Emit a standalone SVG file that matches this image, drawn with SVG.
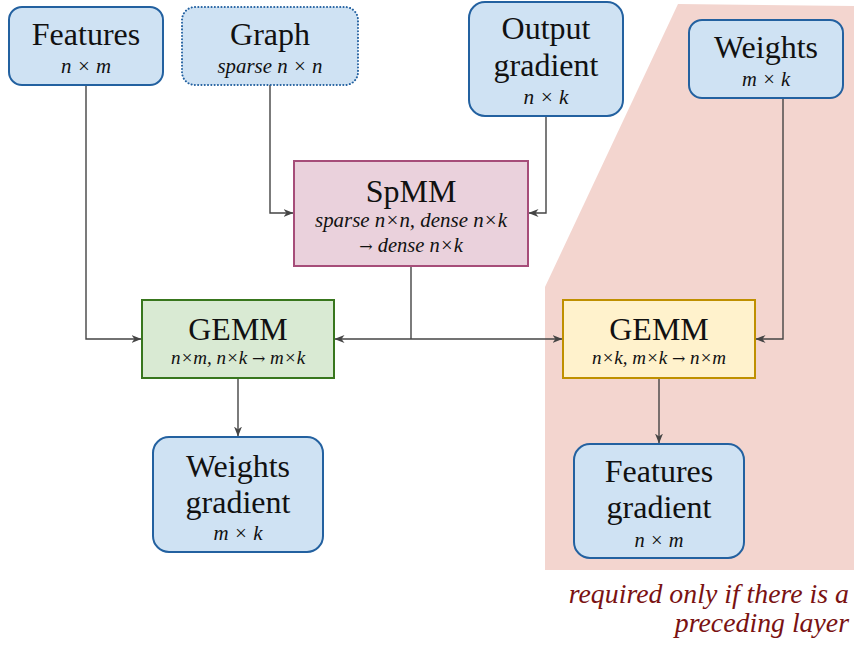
<svg xmlns="http://www.w3.org/2000/svg" width="854" height="649" viewBox="0 0 854 649">
  <defs>
    <marker id="arr" viewBox="0 0 10 8" refX="9.5" refY="4" markerWidth="10" markerHeight="8" markerUnits="userSpaceOnUse" orient="auto">
      <path d="M0,0 L10,4 L0,8 L3,4 Z" fill="#444"/>
    </marker>
    <style>
      text { font-family: "Liberation Serif", "DejaVu Serif", serif; }
      .t { font-size: 32px; fill: #111; text-anchor: middle; }
      .s { font-size: 20.5px; font-style: italic; fill: #111; text-anchor: middle; }
      .sm { font-size: 19px; font-style: italic; fill: #111; text-anchor: middle; }
      .to { font-family: "DejaVu Serif", serif; font-style: normal; font-size: 16px; }
      .data { fill: #cfe2f3; stroke: #2361a0; stroke-width: 2; }
      .edge { fill: none; stroke: #444; stroke-width: 1.4; marker-end: url(#arr); }
      .note { font-size: 27.8px; font-style: italic; fill: #7a1212; text-anchor: end; }
    </style>
  </defs>

  <rect width="854" height="649" fill="#fff"/>

  <!-- region for the optional backward step -->
  <polygon id="optional-region" points="678,4 854,6 854,570 545,570 545,287" fill="#f3d5cf"/>

  <g id="connectors">
    <path class="edge" d="M86,85 V339 H141"/>
    <path class="edge" d="M270,85 V213 H293"/>
    <path class="edge" d="M546,116 V213 H529"/>
    <path d="M411,266 V339" fill="none" stroke="#444" stroke-width="1.4"/>
    <path class="edge" d="M411,339 H335"/>
    <path class="edge" d="M411,339 H562"/>
    <path class="edge" d="M783,98 V339 H756"/>
    <path class="edge" d="M238,378 V436"/>
    <path class="edge" d="M659,378 V443"/>
  </g>

  <g id="features">
    <rect class="data" x="9" y="7" width="154" height="78" rx="13"/>
    <text class="t" x="86" y="45">Features</text>
    <text class="s" x="86" y="73" textLength="50" lengthAdjust="spacingAndGlyphs">n × m</text>
  </g>

  <g id="graph">
    <rect x="182" y="7" width="176" height="78" rx="13" fill="#cfe2f3" stroke="#2361a0" stroke-width="2" stroke-dasharray="0.1 3.2" stroke-linecap="round"/>
    <text class="t" x="270" y="45">Graph</text>
    <text class="s" x="270" y="73" textLength="105" lengthAdjust="spacingAndGlyphs">sparse n × n</text>
  </g>

  <g id="output-gradient">
    <rect class="data" x="469" y="2" width="154" height="114" rx="16"/>
    <text class="t" x="546" y="39">Output</text>
    <text class="t" x="546" y="76">gradient</text>
    <text class="s" x="546" y="104" textLength="45" lengthAdjust="spacingAndGlyphs">n × k</text>
  </g>

  <g id="weights">
    <rect class="data" x="689" y="20" width="154" height="78" rx="13"/>
    <text class="t" x="766" y="58">Weights</text>
    <text class="s" x="766" y="86" textLength="48" lengthAdjust="spacingAndGlyphs">m × k</text>
  </g>

  <g id="spmm">
    <rect x="294" y="161" width="234" height="105" fill="#ead1dc" stroke="#a64d79" stroke-width="2"/>
    <text class="t" x="411" y="202">SpMM</text>
    <text class="s" x="411" y="227" textLength="192" lengthAdjust="spacingAndGlyphs">sparse n×n, dense n×k</text>
    <text class="s" x="411" y="252"><tspan class="to">→</tspan> dense n×k</text>
  </g>

  <g id="gemm-weights">
    <rect x="142" y="300" width="192" height="78" fill="#d9ead3" stroke="#38761d" stroke-width="2"/>
    <text class="t" x="238" y="340">GEMM</text>
    <text class="sm" x="238" y="364">n×m, n×k <tspan class="to">→</tspan> m×k</text>
  </g>

  <g id="gemm-features">
    <rect x="563" y="300" width="192" height="78" fill="#fff2cc" stroke="#bf9000" stroke-width="2"/>
    <text class="t" x="659" y="340">GEMM</text>
    <text class="sm" x="659" y="364">n×k, m×k <tspan class="to">→</tspan> n×m</text>
  </g>

  <g id="weights-gradient">
    <rect class="data" x="153" y="437" width="170" height="115" rx="16"/>
    <text class="t" x="238" y="477">Weights</text>
    <text class="t" x="238" y="513">gradient</text>
    <text class="s" x="238" y="540" textLength="49" lengthAdjust="spacingAndGlyphs">m × k</text>
  </g>

  <g id="features-gradient">
    <rect class="data" x="574" y="444" width="170" height="114" rx="16"/>
    <text class="t" x="659" y="482">Features</text>
    <text class="t" x="659" y="518">gradient</text>
    <text class="s" x="659" y="547" textLength="49" lengthAdjust="spacingAndGlyphs">n × m</text>
  </g>

  <g id="note">
    <text class="note" x="849" y="603">required only if there is a</text>
    <text class="note" x="849" y="632">preceding layer</text>
  </g>
</svg>
